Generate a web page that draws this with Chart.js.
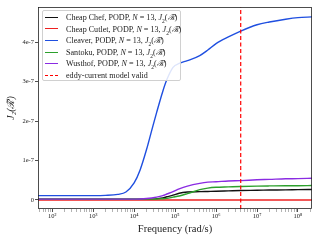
<!DOCTYPE html>
<html><head><meta charset="utf-8">
<script src="https://cdn.jsdelivr.net/npm/chart.js@4"></script>
<style>
html,body{margin:0;padding:0;background:#fff;}
#wrap{position:relative;width:320px;height:240px;}
#legend{position:absolute;left:42px;top:10px;width:139px;height:71px;border:1px solid #d0d0d0;border-radius:2px;background:rgba(255,255,255,0.85);font-family:'Liberation Serif','DejaVu Serif',serif;font-size:8.1px;color:#222;box-sizing:border-box;padding-top:0.5px}
.row{display:flex;align-items:center;height:11.6px;white-space:nowrap}
.sw{display:inline-block;width:13px;margin-left:2px;margin-right:8px;height:0;flex:none}
</style>
</head><body>
<div id="wrap"><canvas id="c" width="320" height="240"></canvas><div id="legend"></div></div>
<script>
// Frequencies (rad/s)
const freqs = [45, 100, 316, 1000, 2000, 4000, 6300, 10000, 14000, 20000, 27000, 35500, 50000, 63000, 89000, 126000, 200000, 400000, 630000, 1000000, 2000000, 4000000, 10000000, 20000000, 50000000, 100000000, 220000000];
// Series values
const cheapChef   = [0.02e-7,0.02e-7,0.02e-7,0.02e-7,0.02e-7,0.02e-7,0.02e-7,0.02e-7,0.02e-7,0.02e-7,0.02e-7,0.03e-7,0.05e-7,0.08e-7,0.12e-7,0.17e-7,0.20e-7,0.21e-7,0.215e-7,0.22e-7,0.23e-7,0.24e-7,0.245e-7,0.25e-7,0.255e-7,0.26e-7,0.265e-7];
const cheapCutlet = [0,0,0,0,0,0,0,0,0,0,0,0,0,0,0,0,0,0,0,0,0,0,0,0,0,0,0];
const cleaver     = [0.11e-7,0.11e-7,0.11e-7,0.11e-7,0.115e-7,0.14e-7,0.2e-7,0.43e-7,0.76e-7,1.27e-7,1.77e-7,2.22e-7,2.75e-7,3.05e-7,3.36e-7,3.46e-7,3.53e-7,3.66e-7,3.8e-7,3.96e-7,4.13e-7,4.28e-7,4.44e-7,4.51e-7,4.58e-7,4.62e-7,4.64e-7];
const santoku     = [0.02e-7,0.02e-7,0.02e-7,0.02e-7,0.02e-7,0.02e-7,0.02e-7,0.02e-7,0.02e-7,0.02e-7,0.02e-7,0.025e-7,0.03e-7,0.04e-7,0.07e-7,0.1e-7,0.16e-7,0.26e-7,0.3e-7,0.32e-7,0.33e-7,0.34e-7,0.35e-7,0.355e-7,0.36e-7,0.36e-7,0.365e-7];
const wusthof     = [0.02e-7,0.02e-7,0.02e-7,0.02e-7,0.02e-7,0.02e-7,0.02e-7,0.02e-7,0.025e-7,0.035e-7,0.05e-7,0.07e-7,0.11e-7,0.15e-7,0.21e-7,0.28e-7,0.35e-7,0.42e-7,0.45e-7,0.46e-7,0.48e-7,0.49e-7,0.51e-7,0.52e-7,0.535e-7,0.54e-7,0.55e-7];
const validFreq = 4000000;
const seriesNames = ['Cheap Chef','Cheap Cutlet','Cleaver','Santoku','Wusthof'];
const seriesColors = ['#111111','#ee2020','#1f4fe0','#2ca02c','#8a2be2'];
const validLabel = 'eddy-current model valid';
const xTickValues = [1e2,1e3,1e4,1e5,1e6,1e7,1e8];
const xTickLabels = ['10²','10³','10⁴','10⁵','10⁶','10⁷','10⁸'];
const yTickValues = [0,1e-7,2e-7,3e-7,4e-7];
const yTickLabels = ['0','1e-7','2e-7','3e-7','4e-7'];

const seriesData = [cheapChef, cheapCutlet, cleaver, santoku, wusthof];
const datasets = seriesData.map((arr,i)=>({
  label: seriesNames[i],
  data: freqs.map((f,k)=>({x:f,y:arr[k]})),
  borderColor: seriesColors[i], backgroundColor: seriesColors[i],
  borderWidth: 1.4, pointRadius: 0, cubicInterpolationMode:'monotone', fill:false,
  order: 5 - i
}));
const yMin = -0.23e-7, yMax = 4.89e-7;
datasets.push({label: validLabel, data:[{x:validFreq,y:yMin},{x:validFreq,y:yMax}],
  borderColor:'#ff0000', borderWidth:1.2, borderDash:[4,2.5], pointRadius:0, order:0});

// HTML legend
const lg = document.getElementById('legend');
seriesNames.forEach((n,i)=>{
  const r=document.createElement('div'); r.className='row';
  r.innerHTML='<span class="sw" style="border-top:1.6px solid '+seriesColors[i]+'"></span><span>'+n+', PODP, <i>N</i> = 13, <i>J</i><sub style="font-size:5.5px">2</sub>(<i>ℛ̃</i>)</span>';
  lg.appendChild(r);
});
{const r=document.createElement('div'); r.className='row';
 r.innerHTML='<span class="sw" style="border-top:1.6px dashed #ff0000"></span><span>'+validLabel+'</span>'; lg.appendChild(r);}

const frame = {id:'frame', afterDraw(c){const a=c.chartArea,ctx=c.ctx;ctx.save();ctx.strokeStyle='#222';ctx.lineWidth=0.8;ctx.strokeRect(a.left+0.5,a.top+0.5,a.right-a.left-1,a.bottom-a.top-1);ctx.restore();}};
const serif = "'Liberation Serif','DejaVu Serif',serif";
new Chart(document.getElementById('c'),{
  type:'line',
  data:{datasets},
  options:{
    responsive:false, animation:false,
    layout:{padding:{top:7,right:8,left:0,bottom:0}},
    plugins:{legend:{display:false},tooltip:{enabled:false}},
    scales:{
      x:{type:'logarithmic', min:45, max:220000000,
        afterFit(s){s.height=31;},
        afterBuildTicks(s){
          const t=[];
          for(let e=1;e<=8;e++){for(let m=1;m<=9;m++){const v=m*Math.pow(10,e); if(v>=45&&v<=2.2e8) t.push({value:v});}}
          s.ticks=t;
        },
        ticks:{autoSkip:false,maxRotation:0,padding:0,color:'#222',font:{family:serif,size:6.5},
          callback(v){const i=xTickValues.findIndex(x=>Math.abs(x-v)/x<1e-6);return i>=0?xTickLabels[i]:'';}},
        grid:{drawOnChartArea:false,drawTicks:true,tickLength:3,
          tickColor:(ctx)=>{const v=ctx.tick&&ctx.tick.value;return xTickValues.some(x=>Math.abs(x-v)/x<1e-6)?'#222':'#666';},
          tickWidth:(ctx)=>{const v=ctx.tick&&ctx.tick.value;return xTickValues.some(x=>Math.abs(x-v)/x<1e-6)?0.8:0.5;}},
        border:{display:false},
        title:{display:true,text:'Frequency (rad/s)',color:'#222',font:{family:serif,size:10.5},padding:{top:0,bottom:4}}
      },
      y:{min:yMin,max:yMax,
        afterFit(s){s.width=38;},
        afterBuildTicks(s){s.ticks=yTickValues.map(v=>({value:v}));},
        ticks:{padding:1,color:'#222',font:{family:serif,size:6.5},
          callback(v){const i=yTickValues.findIndex(x=>Math.abs(x-v)<1e-12);return i>=0?yTickLabels[i]:'';}},
        grid:{drawOnChartArea:false,drawTicks:true,tickLength:3,tickColor:'#222',tickWidth:0.8},
        border:{display:false},
        title:{display:true,text:'J₂(ℛ̃)',color:'#222',font:{family:serif,size:10,style:'italic'},padding:{top:5,bottom:0}}
      }
    }
  },
  plugins:[frame]
});
</script>
</body></html>
